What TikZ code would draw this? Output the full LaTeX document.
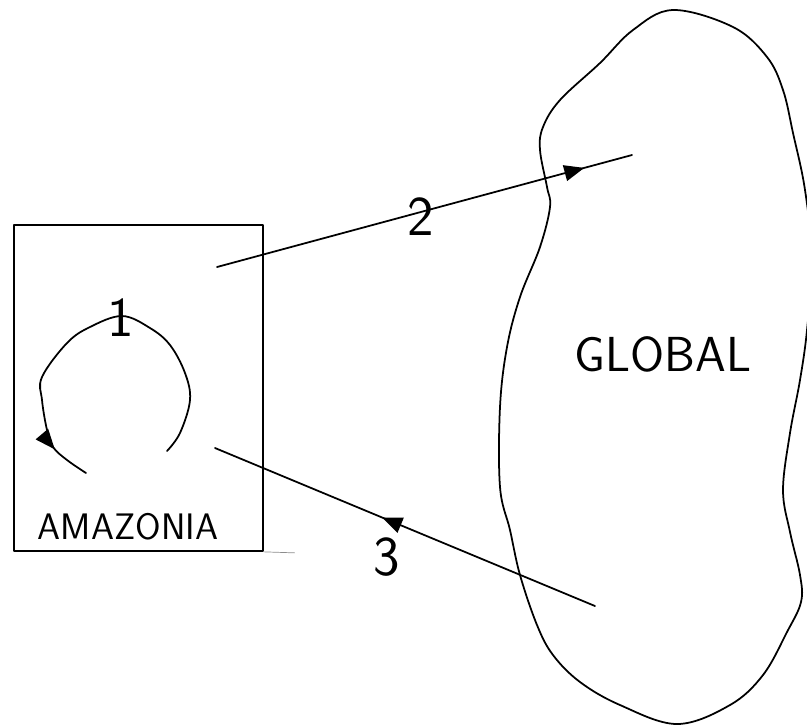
\documentclass[tikz,border=0pt]{standalone}
\usetikzlibrary{arrows.meta,decorations.markings}
\tikzset{
  pen/.style={draw=black, line width=1pt, line cap=round, line join=round},
  flow/.style={pen, decoration={markings, mark=at position #1 with {\arrow{Triangle[length=4mm, width=3.2mm]}}}, postaction={decorate}},
  frame/.style={pen, rectangle, minimum width=4.98cm, minimum height=6.52cm, inner sep=0pt},
  tag/.style={font=\sffamily\fontsize{32}{36}\selectfont, inner sep=0pt},
  region/.style={font=\sffamily\fontsize{28}{32}\selectfont, inner sep=0pt}
}

\begin{document}
\begin{tikzpicture}[x=0.02cm, y=-0.02cm]
  \useasboundingbox (0,0) rectangle (807,725);
  \clip (0,0) rectangle (807,725);

  % Amazonia box
  \node[frame] (amazonia) at (138.5,388) {};
  \node[region, font=\sffamily\fontsize{21}{24}\selectfont] (amazname) at (128,527) {AMAZONIA};
  \draw[draw=black!45, line width=0.4pt] (amazonia.south east) -- ++(31,1);

  % global blob
  \draw[pen] plot[smooth cycle, tension=0.6] coordinates {
    (673,10) (733,27) (767,57) (783,90) (793,133) (805,190) (812,260)
    (807,330) (800,380) (790,433) (783,490) (790,532) (800,575) (801,602)
    (787,632) (763,675) (730,705) (677,724) (620,705) (580,682) (553,655)
    (537,625) (520,575) (510,530) (500,487) (500,407) (507,347) (520,297)
    (540,247) (550,207) (547,187) (540,150) (543,127) (560,100) (600,63) (633,30)};
  \node[region] (global) at (663,354) {GLOBAL};

  % internal loop
  \draw[flow=0.9] plot[smooth, tension=0.6] coordinates {
    (167,451) (180,433) (190,400) (185,373) (170,345) (150,328) (122,316)
    (90,327) (67,343) (42,377) (42,400) (47,430) (53,447) (67,460) (86,473)};
  \node[tag] (one) at (121,318) {1};

  % exchange arrows
  \coordinate (out) at (217,267);
  \coordinate (in) at (632,155);
  \coordinate (back) at (595,606);
  \coordinate (home) at (215,448);
  \draw[flow=0.885] (out) -- (in);
  \draw[flow=0.56] (back) -- (home);
  \node[tag] (two) at (421,217) {2};
  \node[tag] (three) at (387,557) {3};
\end{tikzpicture}
\end{document}
